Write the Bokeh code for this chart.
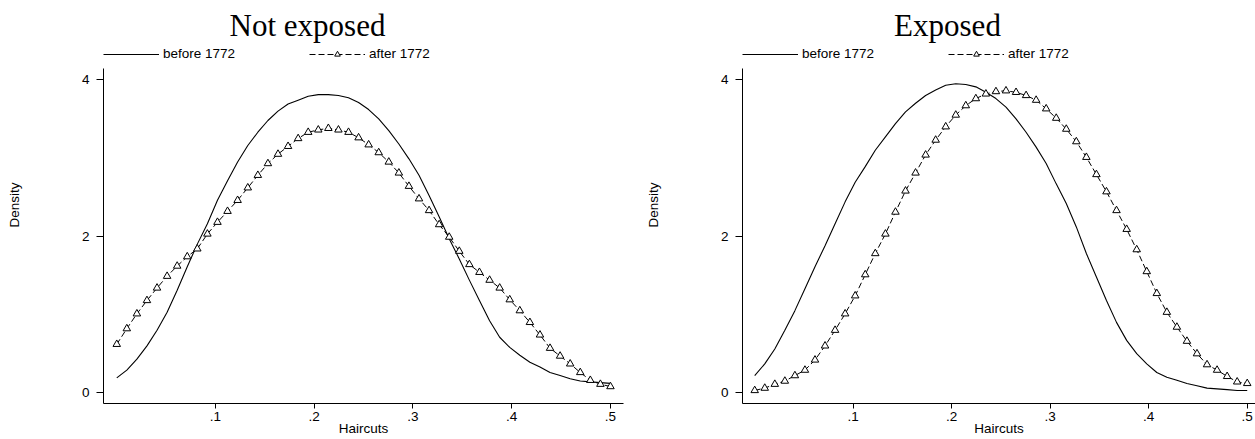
from bokeh.plotting import figure
from bokeh.models import Range1d, FixedTicker, Label, Legend, LegendItem
from bokeh.layouts import row, column
from bokeh.embed import file_html
from bokeh.resources import INLINE

# ---------------- data ----------------
haircuts = [0.0000, 0.0102, 0.0204, 0.0306, 0.0408, 0.0510, 0.0612, 0.0714, 0.0816, 0.0918,
            0.1020, 0.1122, 0.1224, 0.1327, 0.1429, 0.1531, 0.1633, 0.1735, 0.1837, 0.1939,
            0.2041, 0.2143, 0.2245, 0.2347, 0.2449, 0.2551, 0.2653, 0.2755, 0.2857, 0.2959,
            0.3061, 0.3163, 0.3265, 0.3367, 0.3469, 0.3571, 0.3673, 0.3776, 0.3878, 0.3980,
            0.4082, 0.4184, 0.4286, 0.4388, 0.4490, 0.4592, 0.4694, 0.4796, 0.4898, 0.5000]

notexp_before = [0.19, 0.29, 0.43, 0.60, 0.80, 1.03, 1.31, 1.61, 1.90, 2.16,
                 2.46, 2.71, 2.95, 3.16, 3.33, 3.48, 3.60, 3.69, 3.74, 3.79,
                 3.81, 3.81, 3.80, 3.77, 3.71, 3.62, 3.50, 3.35, 3.18, 2.99,
                 2.78, 2.52, 2.25, 1.97, 1.71, 1.44, 1.18, 0.92, 0.71, 0.58,
                 0.48, 0.39, 0.33, 0.26, 0.22, 0.18, 0.15, 0.14, 0.13, 0.12]

notexp_after = [0.62, 0.82, 1.01, 1.18, 1.34, 1.49, 1.62, 1.74, 1.84, 2.03,
                2.18, 2.32, 2.46, 2.62, 2.78, 2.93, 3.05, 3.15, 3.25, 3.33,
                3.36, 3.38, 3.36, 3.33, 3.26, 3.17, 3.07, 2.95, 2.81, 2.64,
                2.48, 2.33, 2.15, 1.99, 1.81, 1.64, 1.54, 1.44, 1.34, 1.19,
                1.05, 0.90, 0.74, 0.57, 0.47, 0.37, 0.26, 0.16, 0.11, 0.08]

exp_before = [0.22, 0.37, 0.56, 0.80, 1.05, 1.33, 1.61, 1.88, 2.16, 2.44,
              2.69, 2.89, 3.10, 3.27, 3.44, 3.59, 3.70, 3.80, 3.87, 3.93,
              3.95, 3.94, 3.91, 3.84, 3.76, 3.65, 3.50, 3.33, 3.14, 2.93,
              2.67, 2.42, 2.12, 1.78, 1.48, 1.18, 0.90, 0.67, 0.50, 0.37,
              0.26, 0.20, 0.16, 0.12, 0.09, 0.06, 0.05, 0.04, 0.03, 0.03]

exp_after = [0.03, 0.06, 0.11, 0.15, 0.22, 0.29, 0.42, 0.60, 0.80, 1.01,
             1.24, 1.51, 1.78, 2.03, 2.31, 2.58, 2.81, 3.04, 3.23, 3.40,
             3.55, 3.67, 3.76, 3.82, 3.85, 3.86, 3.84, 3.80, 3.74, 3.63,
             3.51, 3.37, 3.21, 3.01, 2.79, 2.57, 2.33, 2.09, 1.83, 1.55,
             1.27, 1.03, 0.84, 0.66, 0.50, 0.36, 0.29, 0.21, 0.14, 0.12]

panel_titles = ["Not exposed", "Exposed"]
series_labels = ["before 1772", "after 1772"]
x_ticks = [0.1, 0.2, 0.3, 0.4, 0.5]
x_tick_labels = [".1", ".2", ".3", ".4", ".5"]
y_ticks = [0, 2, 4]
y_tick_labels = ["0", "2", "4"]

SANS = "Liberation Sans"
SERIF = "Liberation Serif"
FS = "13.5px"

HEADER_H = 6
PANEL_H = 439 - HEADER_H
Y_START, Y_END = -0.1367, 4.9367     # frame spans page y 6 .. 403
Y_AXIS_TOP = 4.1444                  # the y axis line stops at page y 68


def make_panel(title, before, after, width, border_left, border_right, x_range, title_x):
    p = figure(width=width, height=PANEL_H, output_backend="svg", toolbar_location=None,
               x_range=Range1d(*x_range), y_range=Range1d(Y_START, Y_END),
               min_border_left=border_left, min_border_right=border_right,
               min_border_top=0, min_border_bottom=36)
    p.outline_line_color = None
    p.background_fill_color = "white"
    p.border_fill_color = "white"
    p.xgrid.visible = False
    p.ygrid.visible = False

    l1 = p.line(haircuts, before, line_color="black", line_width=1.1)
    l2 = p.line(haircuts, after, line_color="black", line_width=1.0, line_dash="6 3")
    s2 = p.scatter(haircuts, after, marker="triangle", size=7.5,
                   fill_color="white", line_color="black", line_width=1.0)

    # x axis
    xa = p.xaxis[0]
    xa.ticker = FixedTicker(ticks=x_ticks)
    xa.major_label_overrides = dict(zip(x_ticks, x_tick_labels))
    xa.axis_label = "Haircuts"
    xa.minor_tick_line_color = None
    xa.major_tick_in = 0
    xa.major_tick_out = 5
    xa.major_label_standoff = 3
    xa.axis_label_standoff = -3
    # y axis
    ya = p.yaxis[0]
    ya.ticker = FixedTicker(ticks=y_ticks)
    ya.major_label_overrides = dict(zip(y_ticks, y_tick_labels))
    ya.axis_label = "Density"
    ya.bounds = (Y_START, Y_AXIS_TOP)
    ya.minor_tick_line_color = None
    ya.major_tick_in = 0
    ya.major_tick_out = 7
    ya.major_label_standoff = 7
    ya.axis_label_standoff = 57
    ya.major_label_orientation = "horizontal"
    for ax in (xa, ya):
        ax.axis_line_color = "black"
        ax.major_tick_line_color = "black"
        ax.major_label_text_font = SANS
        ax.major_label_text_font_size = FS
        ax.major_label_text_color = "black"
        ax.axis_label_text_font = SANS
        ax.axis_label_text_font_size = FS
        ax.axis_label_text_font_style = "normal"
        ax.axis_label_text_color = "black"

    legend = Legend(items=[LegendItem(label=series_labels[0], renderers=[l1]),
                           LegendItem(label=series_labels[1], renderers=[l2, s2])],
                    orientation="horizontal", location=(0, 342),
                    glyph_width=56, glyph_height=14, label_height=14, label_standoff=4,
                    spacing=74, padding=0, margin=0, border_line_color=None,
                    background_fill_alpha=0, label_text_font=SANS,
                    label_text_font_size=FS, label_text_color="black")
    p.add_layout(legend)

    p.add_layout(Label(x=title_x, y=378, x_units="screen", y_units="screen", text=title,
                       text_font=SERIF, text_font_size="31px", text_align="center",
                       text_baseline="alphabetic", text_color="black"))
    return p


# thin strip at the top: only the descender of the cut-off caption shows
header = figure(width=1255, height=HEADER_H, output_backend="svg", toolbar_location=None,
                x_range=Range1d(0, 1255), y_range=Range1d(0, HEADER_H),
                x_axis_location=None, y_axis_location=None,
                min_border=0, min_border_left=0, min_border_right=0,
                min_border_top=0, min_border_bottom=0)
header.outline_line_color = None
header.xgrid.visible = False
header.ygrid.visible = False
header.add_layout(Label(x=0, y=HEADER_H + 2, text="Figure", text_font=SERIF,
                        text_font_size="31px", text_align="left",
                        text_baseline="alphabetic", text_color="black"))

p1 = make_panel(panel_titles[0], notexp_before, notexp_after, 627, 103, 4,
                (-0.01342, 0.5132), 204)
p2 = make_panel(panel_titles[1], exp_before, exp_after, 628, 115, 0,
                (-0.01239, 0.5084), 205)

layout = column(header, row(p1, p2))
open("out.html", "w").write(file_html(layout, INLINE))
